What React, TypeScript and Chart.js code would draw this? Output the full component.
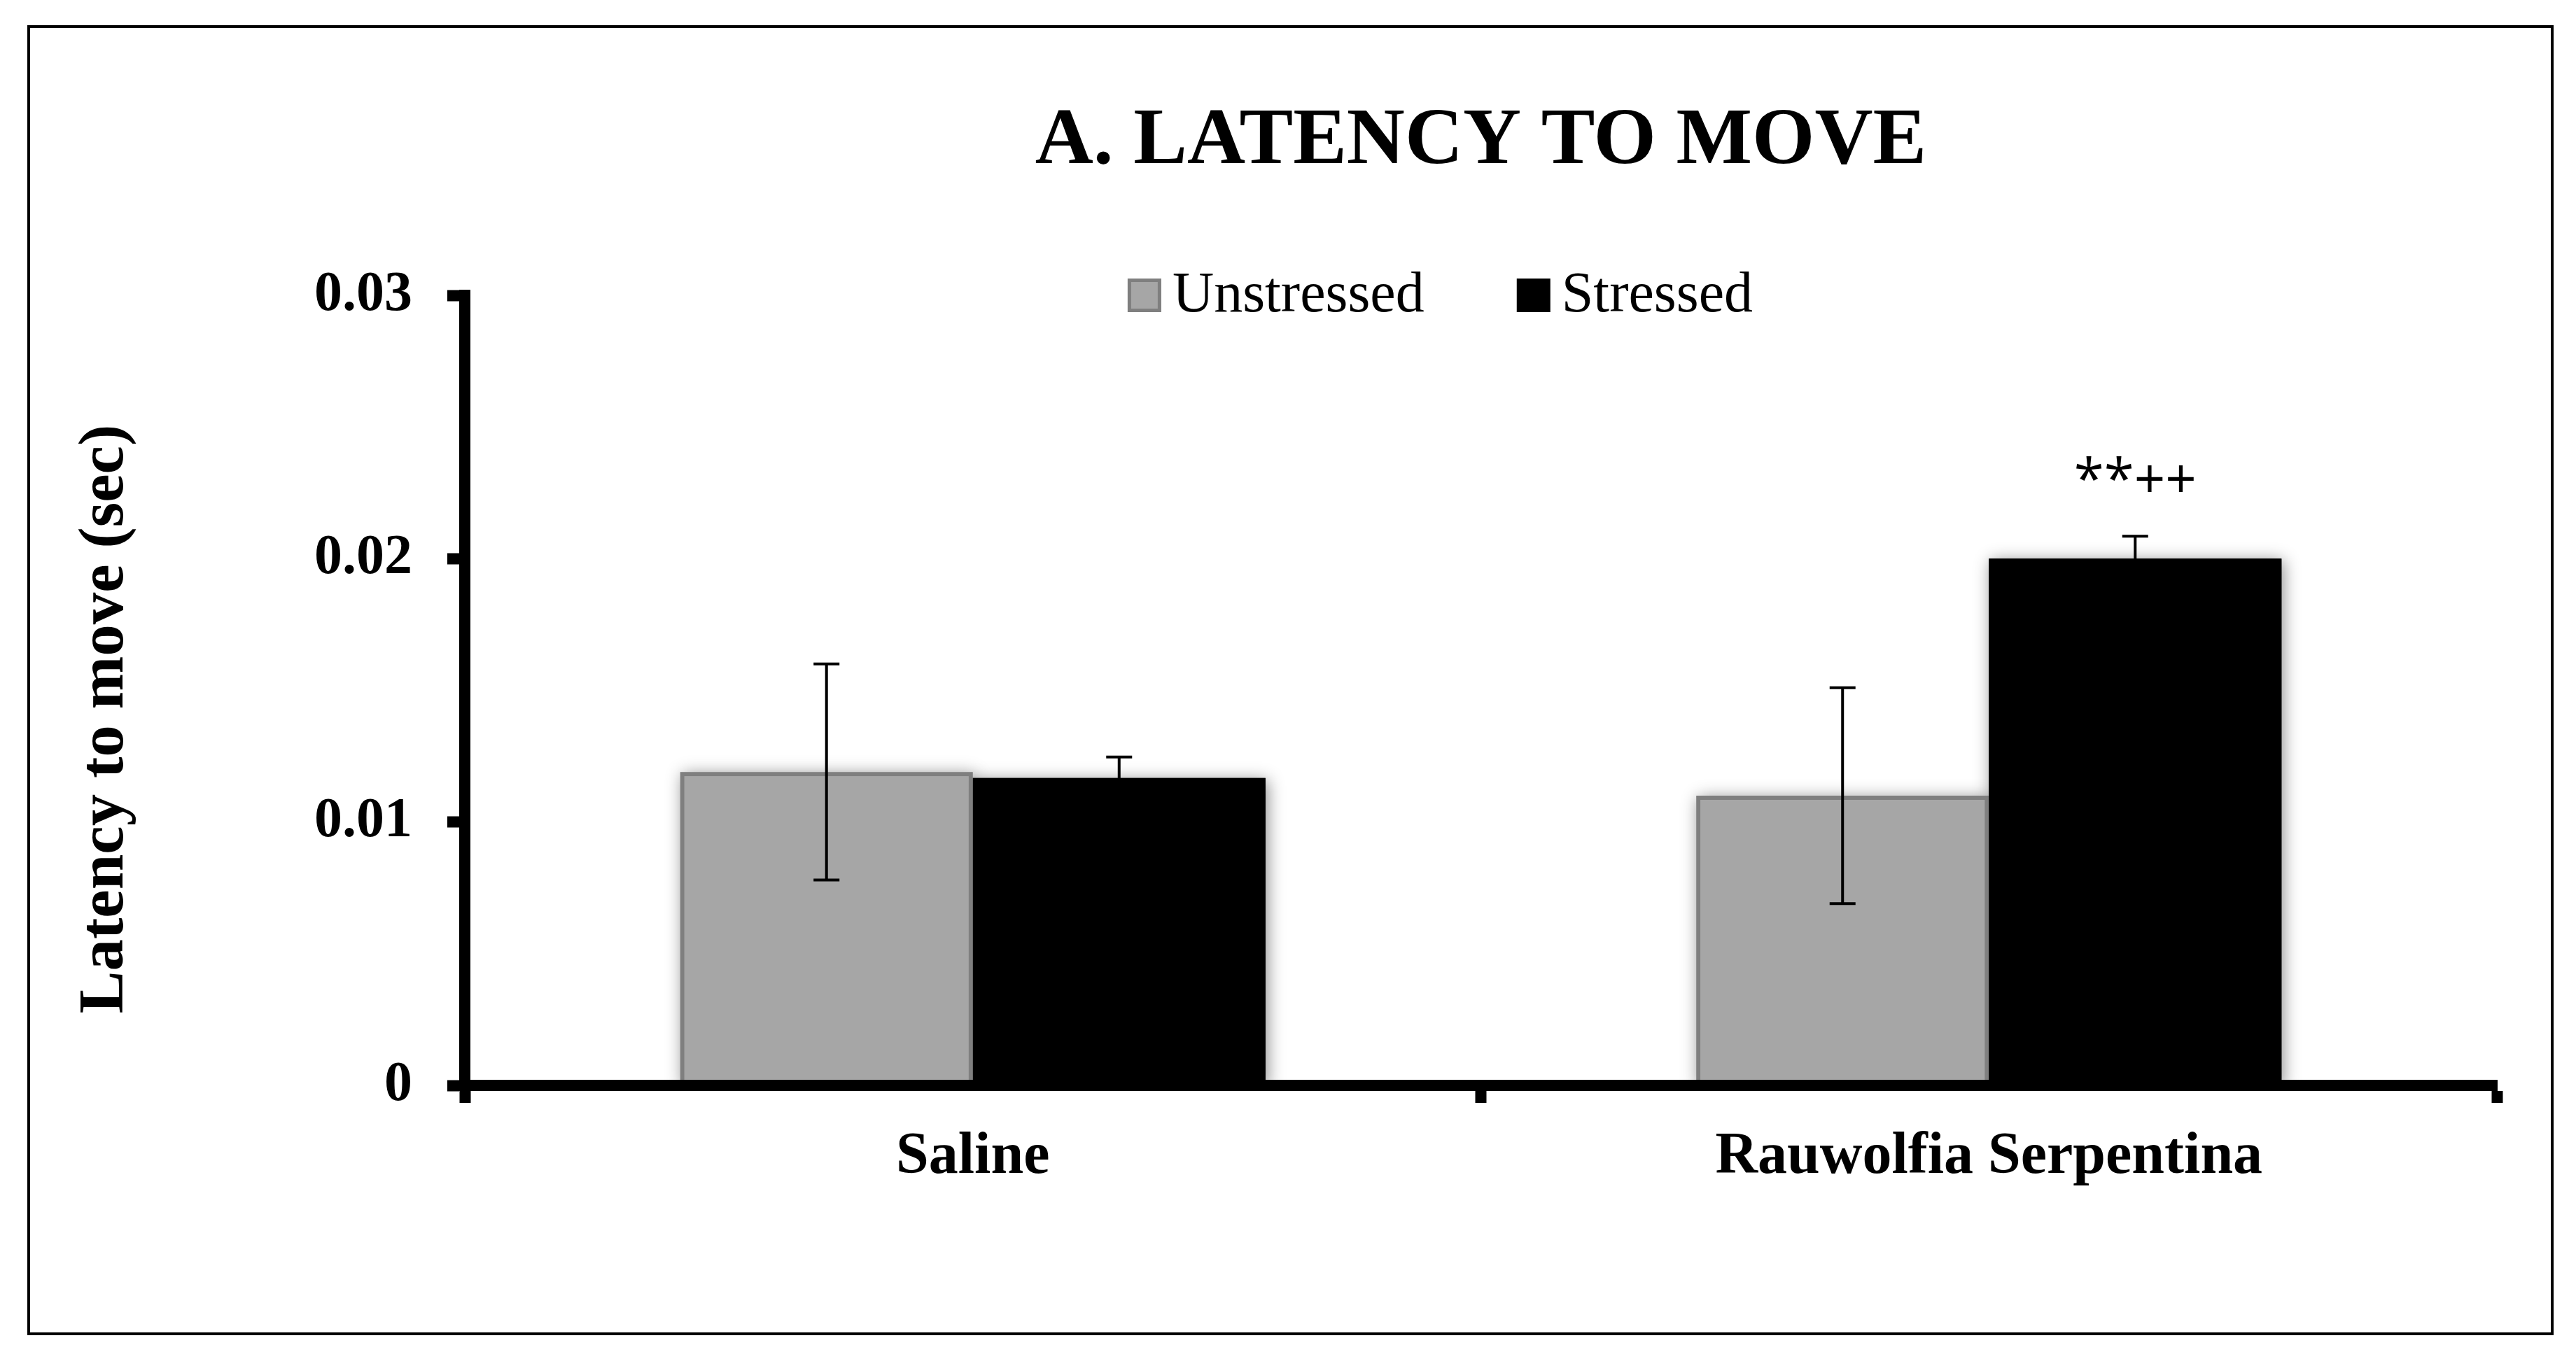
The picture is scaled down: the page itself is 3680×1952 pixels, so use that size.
import React, { useEffect, useRef } from "react";
import { Chart, registerables } from "chart.js";

Chart.register(...registerables);

// ---------- data ----------
const categories = ["Saline", "Rauwolfia Serpentina"];
const seriesLabels = ["Unstressed", "Stressed"];
const unstressedValues = [0.0119, 0.011];
const stressedValues = [0.01167, 0.02];
const unstressedErrors = [0.0041, 0.0041];
const stressedErrors = [0.0008, 0.00085];
const unstressedMarks = ["", ""];
const stressedMarks = ["", "**++"];
const yTickLabels = ["0", "0.01", "0.02", "0.03"];
const chartTitle = "A. LATENCY TO MOVE";
const yAxisTitle = "Latency to move (sec)";

const errorsBySeries = [unstressedErrors, stressedErrors];
const marksBySeries = [unstressedMarks, stressedMarks];

// ---------- style ----------
const SERIF = "'Liberation Serif', 'Times New Roman', Times, serif";
const MARK_FONT = "'Open Sans', 'Liberation Sans', Arial, sans-serif";
const GRAY_FILL = "#a6a6a6";
const GRAY_EDGE = "#7f7f7f";

const framePlugin = {
  id: "frame",
  beforeDraw(chart: any) {
    const { ctx, width, height } = chart;
    ctx.save();
    ctx.fillStyle = "#ffffff";
    ctx.fillRect(0, 0, width, height);
    ctx.restore();
  },
  afterDraw(chart: any) {
    const { ctx } = chart;
    ctx.save();
    ctx.strokeStyle = "#000";
    ctx.lineWidth = 4;
    ctx.strokeRect(41, 38, 3605, 1868);
    ctx.restore();
  },
};

const shadowPlugin = {
  id: "barShadow",
  beforeDatasetsDraw(chart: any) {
    const { ctx, chartArea } = chart;
    ctx.save();
    ctx.beginPath();
    ctx.rect(chartArea.left, 0, chartArea.right - chartArea.left + 60, chartArea.bottom);
    ctx.clip();
    ctx.shadowColor = "rgba(0,0,0,0.45)";
    ctx.shadowBlur = 22;
    ctx.shadowOffsetX = 3;
    ctx.shadowOffsetY = 3;
    chart.data.datasets.forEach((ds: any, i: number) => {
      const meta = chart.getDatasetMeta(i);
      meta.data.forEach((el: any) => {
        const { x, y, base, width } = el.getProps(["x", "y", "base", "width"], true);
        ctx.fillStyle = ds.backgroundColor;
        ctx.fillRect(x - width / 2, Math.min(y, base), width, Math.abs(base - y));
      });
    });
    ctx.restore();
  },
};

const errorBarPlugin = {
  id: "errorBars",
  afterDatasetsDraw(chart: any) {
    const { ctx } = chart;
    const yScale = chart.scales.y;
    ctx.save();
    ctx.strokeStyle = "#000";
    ctx.lineWidth = 4;
    chart.data.datasets.forEach((ds: any, i: number) => {
      const meta = chart.getDatasetMeta(i);
      const errs = errorsBySeries[i];
      const marks = marksBySeries[i];
      meta.data.forEach((el: any, j: number) => {
        const v = ds.data[j];
        const e = errs[j];
        const x = el.x;
        const yT = yScale.getPixelForValue(v + e);
        const yB = yScale.getPixelForValue(v - e);
        const cap = 18.5;
        ctx.beginPath();
        ctx.moveTo(x, yT);
        ctx.lineTo(x, yB);
        ctx.moveTo(x - cap, yT);
        ctx.lineTo(x + cap, yT);
        ctx.moveTo(x - cap, yB);
        ctx.lineTo(x + cap, yB);
        ctx.stroke();
        if (marks[j]) {
          ctx.fillStyle = "#000";
          ctx.font = `78px ${MARK_FONT}`;
          ctx.textAlign = "center";
          ctx.textBaseline = "alphabetic";
          ctx.fillText(marks[j], x, yT - 54);
        }
      });
    });
    ctx.restore();
  },
};

const legendAndAxisTitlePlugin = {
  id: "customLegend",
  afterDraw(chart: any) {
    const { ctx, chartArea: ca } = chart;
    // legend
    ctx.save();
    ctx.font = `82px ${SERIF}`;
    const box = 48;
    const gapText = 16;
    const gapItem = 132;
    const items = chart.data.datasets.map((ds: any) => ({
      label: ds.label as string,
      fill: ds.backgroundColor as string,
      stroke: ds.borderColor as string,
      bw: ds.borderWidth as number,
      w: ctx.measureText(ds.label).width,
    }));
    let total = 0;
    items.forEach((it: any, k: number) => {
      total += box + gapText + it.w + (k > 0 ? gapItem : 0);
    });
    let x = (ca.left + ca.right) / 2 - 58 - total / 2;
    const cy = ca.top;
    items.forEach((it: any) => {
      ctx.fillStyle = it.fill;
      ctx.fillRect(x, cy - box / 2, box, box);
      if (it.bw) {
        ctx.strokeStyle = it.stroke;
        ctx.lineWidth = 5;
        ctx.strokeRect(x + 2.5, cy - box / 2 + 2.5, box - 5, box - 5);
      }
      ctx.fillStyle = "#000";
      ctx.textAlign = "left";
      ctx.textBaseline = "middle";
      ctx.fillText(it.label, x + box + gapText, cy + 1);
      x += box + gapText + it.w + gapItem;
    });
    ctx.restore();

    // y axis title
    ctx.save();
    ctx.translate(ca.left - 513, (ca.top + ca.bottom) / 2 + 41);
    ctx.rotate(-Math.PI / 2);
    ctx.font = `bold 91px ${SERIF}`;
    ctx.fillStyle = "#000";
    ctx.textAlign = "center";
    ctx.textBaseline = "middle";
    ctx.fillText(yAxisTitle, 0, 0);
    ctx.restore();
  },
};

export default function App() {
  const ref = useRef<HTMLCanvasElement | null>(null);

  useEffect(() => {
    const canvas = ref.current;
    if (!canvas) return;
    const chart = new Chart(canvas, {
      type: "bar",
      data: {
        labels: categories,
        datasets: [
          {
            label: seriesLabels[0],
            data: unstressedValues,
            backgroundColor: GRAY_FILL,
            borderColor: GRAY_EDGE,
            borderWidth: 6,
            categoryPercentage: 0.576,
            barPercentage: 1.0,
          },
          {
            label: seriesLabels[1],
            data: stressedValues,
            backgroundColor: "#000000",
            borderColor: "#000000",
            borderWidth: 0,
            categoryPercentage: 0.576,
            barPercentage: 1.0,
          },
        ],
      },
      options: {
        responsive: false,
        maintainAspectRatio: false,
        devicePixelRatio: 1,
        animation: false,
        events: [],
        layout: { padding: { left: 0, right: 113, top: 0, bottom: 0 } },
        plugins: {
          legend: { display: false },
          tooltip: { enabled: false },
          title: {
            display: true,
            text: chartTitle,
            fullSize: false,
            color: "#000",
            font: { family: SERIF, size: 115, weight: "bold", lineHeight: 1.2 },
            padding: { top: 134, bottom: 150 },
          },
        },
        scales: {
          x: {
            type: "category",
            offset: true,
            grid: {
              display: true,
              offset: true,
              drawOnChartArea: false,
              drawTicks: true,
              tickLength: 25,
              tickWidth: 16,
              tickColor: "#000",
            },
            border: { display: true, width: 16, color: "#000", z: 1 },
            ticks: {
              color: "#000",
              font: { family: SERIF, size: 84, weight: "bold" },
              padding: 28,
              maxRotation: 0,
              autoSkip: false,
            },
            afterFit(scale: any) {
              scale.height = 401;
            },
          },
          y: {
            min: 0,
            max: 0.03,
            grid: {
              display: true,
              drawOnChartArea: false,
              drawTicks: true,
              tickLength: 25,
              tickWidth: 16,
              tickColor: "#000",
            },
            border: { display: true, width: 16, color: "#000", z: 1 },
            ticks: {
              stepSize: 0.01,
              color: "#000",
              font: { family: SERIF, size: 80, weight: "bold" },
              padding: 50,
              callback: (_v: any, index: number) => yTickLabels[index],
            },
            afterFit(scale: any) {
              scale.width = 664;
            },
          },
        },
      },
      plugins: [framePlugin, shadowPlugin, errorBarPlugin, legendAndAxisTitlePlugin],
    } as any);
    return () => chart.destroy();
  }, []);

  return (
    <div
      style={{
        position: "fixed",
        left: 0,
        top: 0,
        width: 3680,
        height: 1952,
        background: "#ffffff",
      }}
    >
      <canvas
        ref={ref}
        width={3680}
        height={1952}
        style={{ display: "block", width: 3680, height: 1952 }}
      />
    </div>
  );
}
